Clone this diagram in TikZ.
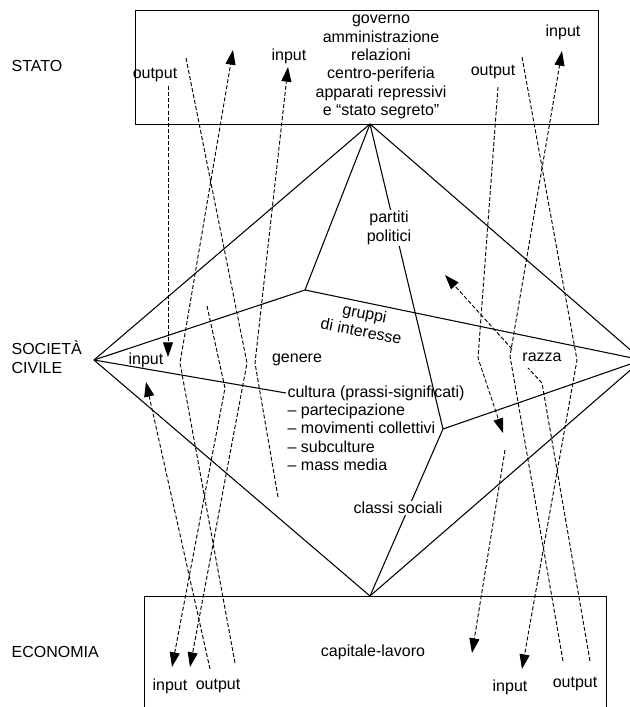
\documentclass[tikz,border=0pt]{standalone}
\usepackage{fontspec}
\setmainfont{Liberation Sans}
\usetikzlibrary{calc,arrows.meta}

\begin{document}
\begin{tikzpicture}[x=0.75pt, y=-0.75pt, >={Triangle[length=11pt,width=7.5pt]}, font=\fontsize{12}{13.8}\selectfont]
\def \sp {0.7pt}
  \tikzstyle{frame} = [draw, black, line width=\sp]
  \tikzstyle{lines} = [black, line width=0.8pt]
  \tikzstyle{flow} = [black, line width=\sp, dash pattern=on 3pt off 1.6pt]
  \tikzstyle{flowin} = [flow, ->]
  \tikzstyle{lbl} = [inner sep=1pt, text=black]
  \tikzstyle{hide} = [lbl, fill=white]

\useasboundingbox (0,0) rectangle (630,707);

%%%%%%%%%%%%%%%%%%%%%%%%%%%%%%%%%%%%%%%%%%%%%%%%%%%%%%%%%%%%%%%%%%%%%%%%%%%%%%%

\coordinate (stato_nw) at (135,10);
\coordinate (stato_se) at (598,124);
\coordinate (eco_nw) at (144,596);
\coordinate (eco_se) at (606,712);

\coordinate (top_pose) at (370,124);
\coordinate (bottom_pose) at (370,596);
\coordinate (left_pose) at (94,360);
\coordinate (right_pose) at (642,360);
\coordinate (fork_up) at (305,290);
\coordinate (fork_down) at (443,429);

% left flows
\coordinate (so1) at (168,86);
\coordinate (ci1) at (168,357);
\coordinate (so2) at (186,58);
\coordinate (k1) at (247,363);
\coordinate (ei1) at (190,667);
\coordinate (eo1) at (235,663);
\coordinate (k2) at (180,363);
\coordinate (si1) at (233,50);
\coordinate (co1) at (278,497);
\coordinate (k3) at (255,363);
\coordinate (si2) at (288,67);
\coordinate (eo2) at (210,669);
\coordinate (ci2) at (146,382);
\coordinate (co2) at (207,306);
\coordinate (k4) at (225,388);
\coordinate (ei2) at (172,667);

% right flows
\coordinate (so3) at (498,87);
\coordinate (k5) at (478,358);
\coordinate (ci3) at (503,433);
\coordinate (co3) at (512,349);
\coordinate (ci4) at (445,275);
\coordinate (eo3) at (563,661);
\coordinate (k6) at (510,356);
\coordinate (si3) at (562,51);
\coordinate (so4) at (522,57);
\coordinate (k7) at (577,360);
\coordinate (ei3) at (522,669);
\coordinate (eo4) at (590,661);
\coordinate (k8) at (542,383);
\coordinate (ci5) at (528,368);
\coordinate (co4) at (505,450);
\coordinate (ei4) at (472,653);

%%%%%%%%%%%%%%%%%%%%%%%%%%%%%%%%%%%%%%%%%%%%%%%%%%%%%%%%%%%%%%%%%%%%%%%%%%%%%%%

\draw[frame] (stato_nw) rectangle (stato_se);
\draw[frame] (eco_nw) rectangle (eco_se);

\node[lbl, anchor=west] (stato) at (10,66) {STATO};
\node[lbl, anchor=west, align=left] (civile) at (10,357) {SOCIETÀ\\CIVILE};
\node[lbl, anchor=west] (economia) at (10,652) {ECONOMIA};

\node[lbl, align=center] (apparati) at (381,67) {governo\\amministrazione\\relazioni\\centro-periferia\\apparati repressivi\\e ``stato segreto''};
\node[lbl] (s_out_l) at (155,75) {output};
\node[lbl] (s_in_l) at (289,56) {input};
\node[lbl] (s_out_r) at (493,72) {output};
\node[lbl] (s_in_r) at (563,32) {input};

\node[lbl] (c_in) at (146,360) {input};
\node[lbl] (genere) at (297,360) {genere};
\node[lbl] (razza) at (542,357) {razza};
\node[lbl, align=center, rotate=-11] (gruppi) at (363,322) {gruppi\\di interesse};
\node[lbl, anchor=west] (cultura) at (286,393) {cultura (prassi-significati)};
\node[lbl, anchor=north west, align=left] (pratiche) at (286,402) {-- partecipazione\\-- movimenti collettivi\\-- subculture\\-- mass media};

\node[lbl] (capitale) at (373,652) {capitale-lavoro};
\node[lbl] (e_in_l) at (170,686) {input};
\node[lbl] (e_out_l) at (218,686) {output};
\node[lbl] (e_in_r) at (510,687) {input};
\node[lbl] (e_out_r) at (575,684) {output};

%%%%%%%%%%%%%%%%%%%%%%%%%%%%%%%%%%%%%%%%%%%%%%%%%%%%%%%%%%%%%%%%%%%%%%%%%%%%%%%

\draw[lines] (left_pose) -- (top_pose) -- (right_pose) -- (bottom_pose) -- cycle;
\draw[lines] (top_pose) -- (fork_up);
\draw[lines] (left_pose) -- (fork_up) -- (right_pose);
\draw[lines] (top_pose) -- (fork_down) -- (bottom_pose);
\draw[lines] (fork_down) -- (right_pose);
\draw[lines] (left_pose) -- (cultura.west);

\node[hide, align=center] (partiti) at (389,228) {partiti\\politici};
\node[hide] (classi) at (398,508) {classi sociali};

%%%%%%%%%%%%%%%%%%%%%%%%%%%%%%%%%%%%%%%%%%%%%%%%%%%%%%%%%%%%%%%%%%%%%%%%%%%%%%%

\draw[flowin] (so1) -- (ci1);
\draw[flowin] (so2) -- (k1) -- (ei1);
\draw[flowin] (eo1) -- (k2) -- (si1);
\draw[flowin] (co1) -- (k3) -- (si2);
\draw[flowin] (eo2) -- (ci2);
\draw[flowin] (co2) -- (k4) -- (ei2);

\draw[flowin] (so3) -- (k5) -- (ci3);
\draw[flowin] (co3) -- (ci4);
\draw[flowin] (eo3) -- (k6) -- (si3);
\draw[flowin] (so4) -- (k7) -- (ei3);
\draw[flow] (eo4) -- (k8) -- (ci5);
\draw[flowin] (co4) -- (ei4);

\end{tikzpicture}
\end{document}
